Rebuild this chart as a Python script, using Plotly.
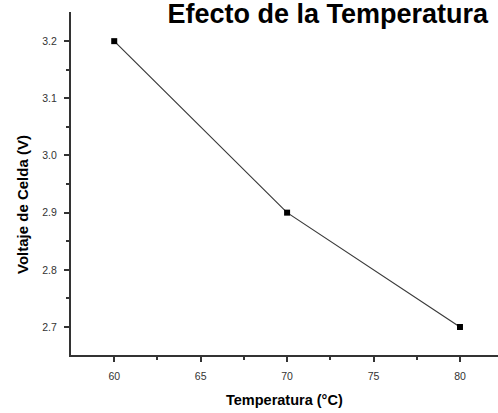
import plotly.graph_objects as go

# Efecto de la temperatura sobre el voltaje de celda
temperatura = [60, 70, 80]
voltaje = [3.2, 2.9, 2.7]

fnt = "Liberation Sans, Arial, sans-serif"

fig = go.Figure()
fig.add_trace(go.Scatter(
    x=temperatura, y=voltaje,
    mode="lines+markers",
    line=dict(color="#3a3a3a", width=1.2),
    marker=dict(symbol="square", size=6, color="black"),
    showlegend=False,
))

axis_common = dict(
    showline=True, linecolor="#333333", linewidth=2,
    ticks="outside", ticklen=5, tickwidth=1.5, tickcolor="#333333",
    showgrid=False, zeroline=False,
    tickfont=dict(family=fnt, size=10.5, color="#333333"),
    mirror=False,
)

fig.update_layout(
    width=498, height=413,
    margin=dict(l=71, r=0, t=12, b=58),
    paper_bgcolor="white", plot_bgcolor="white",
    title=dict(text="<b>Efecto de la Temperatura</b>",
               font=dict(family=fnt, size=27, color="black"),
               xref="container", x=0.98, xanchor="right",
               yref="container", y=0.968, yanchor="middle", pad=dict(t=0)),
    xaxis=dict(range=[57.5, 82.2], tickvals=[60, 65, 70, 75, 80],
               minor=dict(tickvals=[62.5, 67.5, 72.5, 77.5], ticks="outside",
                          ticklen=3, tickcolor="#333333", tickwidth=1.5),
               ticklabelstandoff=5, **axis_common),
    yaxis=dict(range=[2.651, 3.251], tickvals=[2.7, 2.8, 2.9, 3.0, 3.1, 3.2],
               tickformat=".1f",
               minor=dict(tickvals=[2.75, 2.85, 2.95, 3.05, 3.15], ticks="outside",
                          ticklen=3, tickcolor="#333333", tickwidth=1.5),
               ticklabelstandoff=5, **axis_common),
    annotations=[
        dict(text="<b>Temperatura (°C)</b>", xref="paper", yref="paper",
             x=0.5, y=-0.13, xanchor="center", yanchor="middle", showarrow=False,
             font=dict(family=fnt, size=14.5, color="black")),
        dict(text="<b>Voltaje de Celda (V)</b>", xref="paper", yref="paper",
             x=-0.115, y=0.44, xanchor="center", yanchor="middle", showarrow=False,
             textangle=-90, font=dict(family=fnt, size=15, color="black")),
    ],
)

# page body has an 8px default margin; drop it so the figure fills the window
fig.write_html("out.html", config={"displayModeBar": False},
               post_script="document.body.style.margin='0';")
